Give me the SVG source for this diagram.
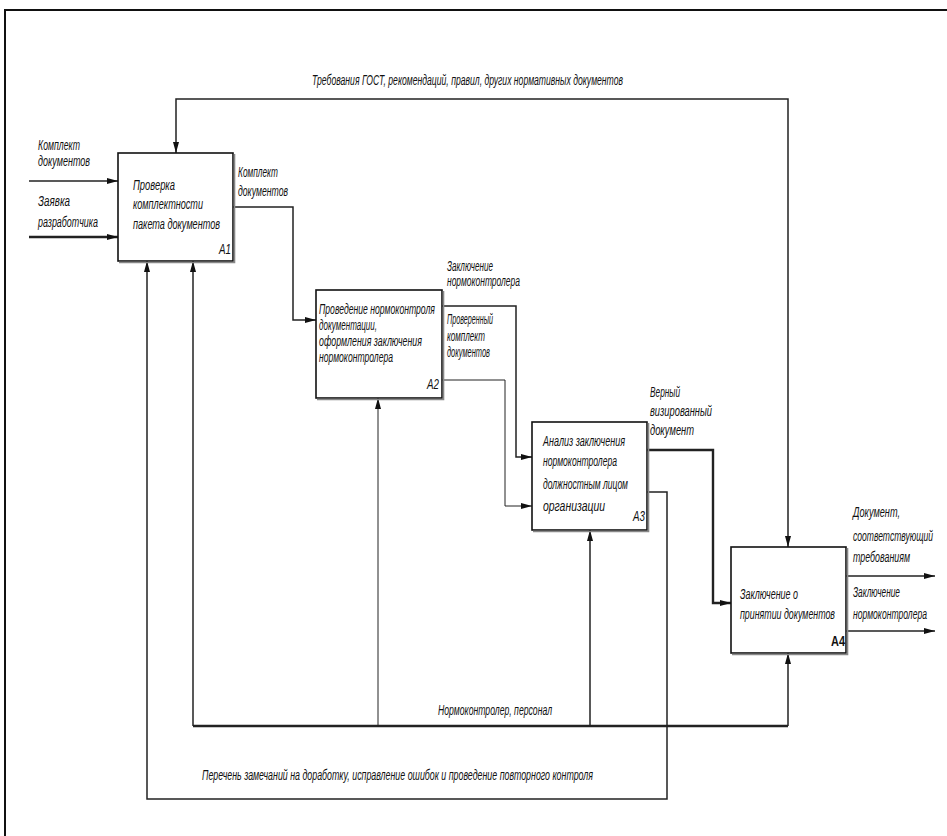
<svg xmlns="http://www.w3.org/2000/svg" width="947" height="836" viewBox="0 0 947 836">
<style>
.t{font-family:"Liberation Sans","DejaVu Sans",sans-serif;font-style:italic;font-size:14px;fill:#111}
.b{font-weight:bold;font-style:normal}
.box{fill:#fff;stroke:#111;stroke-width:1.6}
.sh{fill:none;stroke:#888;stroke-width:1.6}
.c{fill:none;stroke:#222;stroke-width:1.5}
.thin{stroke-width:1}
.thick{stroke-width:2.4}
</style>
<defs>
<marker id="ar" markerWidth="12" markerHeight="8" refX="11" refY="4" orient="auto" markerUnits="userSpaceOnUse">
<path d="M0,1 L11,4 L0,7 Z" fill="#111"/>
</marker>
</defs>
<rect width="947" height="836" fill="#fff"/>
<g id="frame">
<path d="M5,836 V10 H947" fill="none" stroke="#111" stroke-width="2"/>
</g>
<g id="connectors">
<path class="c" d="M480,99 H176 V153" marker-end="url(#ar)"/>
<path class="c" d="M480,99 H788 V547" marker-end="url(#ar)"/>
<path class="c" d="M29,181 H118" marker-end="url(#ar)"/>
<path class="c thick" d="M29,237 H118" marker-end="url(#ar)"/>
<path class="c" d="M233,207 H293 V320 H316" marker-end="url(#ar)"/>
<path class="c" d="M442,306 H516 V457 H532" marker-end="url(#ar)"/>
<path class="c thin" d="M442,380 H505 V506 H532" marker-end="url(#ar)"/>
<path class="c thick" d="M647,450 H713 V603 H731" marker-end="url(#ar)"/>
<path class="c" d="M647,492 H667 V799 H147 V261" marker-end="url(#ar)"/>
<path class="c thick" d="M193,726 H788"/>
<path class="c" d="M193,726 V261" marker-end="url(#ar)"/>
<path class="c thin" d="M378,726 V398" marker-end="url(#ar)"/>
<path class="c" d="M590,726 V530" marker-end="url(#ar)"/>
<path class="c" d="M788,726 V653" marker-end="url(#ar)"/>
<path class="c" d="M846,576 H935" marker-end="url(#ar)"/>
<path class="c" d="M846,631 H935" marker-end="url(#ar)"/>
</g>
<g id="labels">
<text class="t" transform="translate(312,85) scale(0.7,1)" textLength="444.3" lengthAdjust="spacingAndGlyphs">Требования ГОСТ, рекомендаций, правил, других нормативных документов</text>
<text class="t" transform="translate(38,150) scale(0.7,1)" textLength="60" lengthAdjust="spacingAndGlyphs">Комплект</text>
<text class="t" transform="translate(38,166) scale(0.7,1)" textLength="74.3" lengthAdjust="spacingAndGlyphs">документов</text>
<text class="t" transform="translate(38,206) scale(0.7,1)" textLength="45.7" lengthAdjust="spacingAndGlyphs">Заявка</text>
<text class="t" transform="translate(38,227) scale(0.7,1)" textLength="85.7" lengthAdjust="spacingAndGlyphs">разработчика</text>
<text class="t" transform="translate(238,177) scale(0.7,1)" textLength="57.1" lengthAdjust="spacingAndGlyphs">Комплект</text>
<text class="t" transform="translate(238,196) scale(0.7,1)" textLength="71.4" lengthAdjust="spacingAndGlyphs">документов</text>
<text class="t" transform="translate(447,271) scale(0.7,1)" textLength="65.7" lengthAdjust="spacingAndGlyphs">Заключение</text>
<text class="t" transform="translate(447,286) scale(0.7,1)" textLength="104.3" lengthAdjust="spacingAndGlyphs">нормоконтролера</text>
<text class="t" transform="translate(447,324) scale(0.7,1)" textLength="65.7" lengthAdjust="spacingAndGlyphs">Проверенный</text>
<text class="t" transform="translate(447,341) scale(0.7,1)" textLength="54.3" lengthAdjust="spacingAndGlyphs">комплект</text>
<text class="t" transform="translate(447,357) scale(0.7,1)" textLength="61.4" lengthAdjust="spacingAndGlyphs">документов</text>
<text class="t" transform="translate(650,397) scale(0.7,1)" textLength="42.9" lengthAdjust="spacingAndGlyphs">Верный</text>
<text class="t" transform="translate(650,416) scale(0.7,1)" textLength="88.6" lengthAdjust="spacingAndGlyphs">визированный</text>
<text class="t" transform="translate(650,435) scale(0.7,1)" textLength="62.9" lengthAdjust="spacingAndGlyphs">документ</text>
<text class="t" transform="translate(853,517) scale(0.7,1)" textLength="67.1" lengthAdjust="spacingAndGlyphs">Документ,</text>
<text class="t" transform="translate(853,541) scale(0.7,1)" textLength="114.3" lengthAdjust="spacingAndGlyphs">соответствующий</text>
<text class="t" transform="translate(853,562) scale(0.7,1)" textLength="81.4" lengthAdjust="spacingAndGlyphs">требованиям</text>
<text class="t" transform="translate(853,597) scale(0.7,1)" textLength="67.1" lengthAdjust="spacingAndGlyphs">Заключение</text>
<text class="t" transform="translate(853,619) scale(0.7,1)" textLength="105.7" lengthAdjust="spacingAndGlyphs">нормоконтролера</text>
<text class="t" transform="translate(438,715) scale(0.7,1)" textLength="162.9" lengthAdjust="spacingAndGlyphs">Нормоконтролер, персонал</text>
<text class="t" transform="translate(202,780) scale(0.7,1)" textLength="558.6" lengthAdjust="spacingAndGlyphs">Перечень замечаний на доработку, исправление ошибок и проведение повторного контроля</text>
</g>
<g id="A1">
<rect class="box" x="118" y="153" width="115" height="108"/>
<path class="sh" d="M119,262.5 H234.5 V154"/>
<text class="t" transform="translate(133,190) scale(0.7,1)" textLength="60" lengthAdjust="spacingAndGlyphs">Проверка</text>
<text class="t" transform="translate(133,209) scale(0.7,1)" textLength="100" lengthAdjust="spacingAndGlyphs">комплектности</text>
<text class="t" transform="translate(133,229) scale(0.7,1)" textLength="124.3" lengthAdjust="spacingAndGlyphs">пакета документов</text>
<text class="t" transform="translate(219,254) scale(0.7,1)" textLength="17.1" lengthAdjust="spacingAndGlyphs">A1</text>
</g>
<g id="A2">
<rect class="box" x="316" y="290" width="126" height="108"/>
<path class="sh" d="M317,399.5 H443.5 V291"/>
<text class="t" transform="translate(319,314) scale(0.7,1)" textLength="165.7" lengthAdjust="spacingAndGlyphs">Проведение нормоконтроля</text>
<text class="t" transform="translate(319,330) scale(0.7,1)" textLength="82.9" lengthAdjust="spacingAndGlyphs">документации,</text>
<text class="t" transform="translate(319,346) scale(0.7,1)" textLength="147.1" lengthAdjust="spacingAndGlyphs">оформления заключения</text>
<text class="t" transform="translate(319,362) scale(0.7,1)" textLength="105.7" lengthAdjust="spacingAndGlyphs">нормоконтролера</text>
<text class="t" transform="translate(427,389) scale(0.7,1)" textLength="17.1" lengthAdjust="spacingAndGlyphs">A2</text>
</g>
<g id="A3">
<rect class="box" x="532" y="422" width="115" height="108"/>
<path class="sh" d="M533,531.5 H648.5 V423"/>
<text class="t" transform="translate(543,446) scale(0.7,1)" textLength="117.1" lengthAdjust="spacingAndGlyphs">Анализ заключения</text>
<text class="t" transform="translate(543,466) scale(0.7,1)" textLength="105.7" lengthAdjust="spacingAndGlyphs">нормоконтролера</text>
<text class="t" transform="translate(543,489) scale(0.7,1)" textLength="121.4" lengthAdjust="spacingAndGlyphs">должностным лицом</text>
<text class="t" transform="translate(543,511) scale(0.7,1)" textLength="88.6" lengthAdjust="spacingAndGlyphs">организации</text>
<text class="t" transform="translate(633,521) scale(0.7,1)" textLength="17.1" lengthAdjust="spacingAndGlyphs">A3</text>
</g>
<g id="A4">
<rect class="box" x="731" y="547" width="115" height="106"/>
<path class="sh" d="M732,654.5 H847.5 V548"/>
<text class="t" transform="translate(740,599) scale(0.7,1)" textLength="82.9" lengthAdjust="spacingAndGlyphs">Заключение о</text>
<text class="t" transform="translate(740,619) scale(0.7,1)" textLength="135.7" lengthAdjust="spacingAndGlyphs">принятии документов</text>
<text class="t b" transform="translate(831,646) scale(0.7,1)" textLength="20" lengthAdjust="spacingAndGlyphs">A4</text>
</g>
</svg>
